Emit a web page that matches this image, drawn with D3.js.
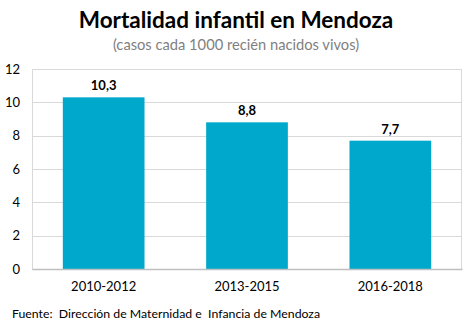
<!DOCTYPE html>
<html>
<head>
<meta charset="utf-8">
<script src="https://cdn.jsdelivr.net/npm/d3@7"></script>
<style>
  body { margin: 0; background: #fff; }
  svg { font-family: Lato, "Open Sans", sans-serif; }
</style>
</head>
<body>
<div id="chart"></div>
<script>
const periods = ["2010-2012", "2013-2015", "2016-2018"];
const rates = [10.3, 8.8, 7.7];
const yTicks = [0, 2, 4, 6, 8, 10, 12];

const width = 472, height = 331;
const margin = {top: 69, right: 10, bottom: 62, left: 32};

const svg = d3.select("#chart").append("svg")
  .attr("width", width)
  .attr("height", height);

const x = d3.scaleBand()
  .domain(periods)
  .range([margin.left, width - margin.right])
  .paddingInner(0.43)
  .paddingOuter(0.215);

const y = d3.scaleLinear()
  .domain([0, 12])
  .range([height - margin.bottom, margin.top]);

// titles
svg.append("text")
  .attr("x", 236).attr("y", 28)
  .attr("text-anchor", "middle")
  .attr("font-size", 22.5).attr("font-weight", "bold")
  .attr("fill", "#000")
  .text("Mortalidad infantil en Mendoza");

svg.append("text")
  .attr("x", 236).attr("y", 50)
  .attr("text-anchor", "middle")
  .attr("font-size", 14.7)
  .attr("fill", "#7f7f7f")
  .text("(casos cada 1000 recién nacidos vivos)");

// plot frame
svg.append("rect")
  .attr("x", margin.left + 0.5).attr("y", y(12) + 0.5)
  .attr("width", width - margin.right - margin.left - 1)
  .attr("height", y(0) - y(12))
  .attr("fill", "none")
  .attr("stroke", "#d9d9d9");

// gridlines
svg.append("g")
  .selectAll("line")
  .data(yTicks.slice(1))
  .join("line")
  .attr("x1", margin.left).attr("x2", width - margin.right)
  .attr("y1", d => Math.round(y(d)) + 0.5)
  .attr("y2", d => Math.round(y(d)) + 0.5)
  .attr("stroke", "#d9d9d9");

// y axis
const yAxis = svg.append("g")
  .attr("transform", `translate(${margin.left},0)`)
  .call(d3.axisLeft(y).tickValues(yTicks).tickSize(0).tickPadding(12));
yAxis.select(".domain").remove();
yAxis.selectAll("text")
  .attr("font-family", "Lato, sans-serif")
  .attr("font-size", 13)
  .attr("fill", "#000");

// bars
svg.append("g")
  .selectAll("rect")
  .data(rates)
  .join("rect")
  .attr("x", (d, i) => x(periods[i]))
  .attr("y", d => y(d))
  .attr("width", x.bandwidth())
  .attr("height", d => y(0) - y(d))
  .attr("fill", "#00a9cb");

// value labels
svg.append("g")
  .selectAll("text")
  .data(rates)
  .join("text")
  .attr("x", (d, i) => x(periods[i]) + x.bandwidth() / 2)
  .attr("y", d => y(d) - 7)
  .attr("text-anchor", "middle")
  .attr("font-size", 13).attr("font-weight", "bold")
  .attr("fill", "#000")
  .text(d => d3.format(".1f")(d).replace(".", ","));

// x axis
const xAxis = svg.append("g")
  .attr("transform", `translate(0,${y(0)})`)
  .call(d3.axisBottom(x).tickSize(0).tickPadding(13));
xAxis.select(".domain")
  .attr("stroke", "#bfbfbf").attr("stroke-width", 1.5);
xAxis.selectAll("text")
  .attr("font-family", "Lato, sans-serif")
  .attr("font-size", 13)
  .attr("fill", "#000");

// source
svg.append("text")
  .attr("x", 12).attr("y", 318)
  .attr("font-size", 12.3)
  .attr("fill", "#000")
  .style("white-space", "pre")
  .text("Fuente:  Dirección de Maternidad e  Infancia de Mendoza");
</script>
</body>
</html>
